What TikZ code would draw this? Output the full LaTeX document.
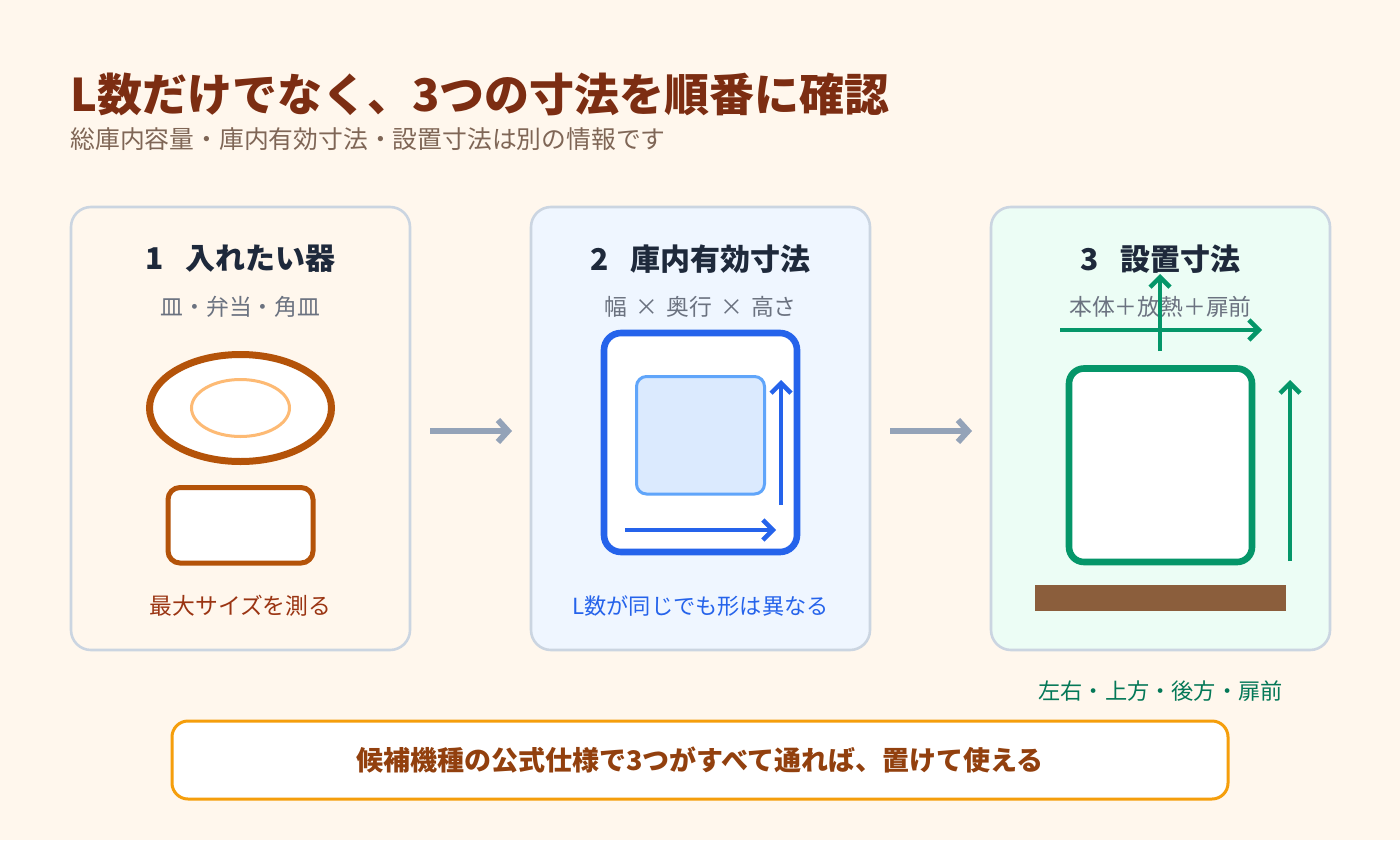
\documentclass[tikz,border=0pt]{standalone}
\usepackage{fontspec}
\setmainfont{Noto Sans CJK JP}
\usetikzlibrary{arrows.meta}
\definecolor{bg}{HTML}{FFF7ED}
\definecolor{titlec}{HTML}{7C2D12}
\definecolor{subtitlec}{HTML}{7F6656}
\definecolor{panelline}{HTML}{CBD5E1}
\definecolor{pfillA}{HTML}{FFF7ED}
\definecolor{pfillB}{HTML}{EFF6FF}
\definecolor{pfillC}{HTML}{ECFDF5}
\definecolor{headc}{HTML}{1E293B}
\definecolor{subgray}{HTML}{6B7280}
\definecolor{orangeA}{HTML}{B45309}
\definecolor{orangeL}{HTML}{FDBA74}
\definecolor{capA}{HTML}{9A3412}
\definecolor{blueA}{HTML}{2563EB}
\definecolor{blueL}{HTML}{60A5FA}
\definecolor{blueF}{HTML}{DBEAFE}
\definecolor{greenA}{HTML}{059669}
\definecolor{capC}{HTML}{047857}
\definecolor{barbrown}{HTML}{8B5E3C}
\definecolor{arrowgray}{HTML}{94A3B8}
\definecolor{amber}{HTML}{F59E0B}
\definecolor{bottomtext}{HTML}{92400E}
\tikzset{
  panel/.style={draw=panelline, line width=1.3pt, rounded corners=10pt,
    minimum width=169.5pt, minimum height=221.5pt, inner sep=0pt},
  head/.style={font=\bfseries\fontsize{15}{18}\selectfont, text=headc, inner sep=0pt},
  subt/.style={font=\fontsize{11.4}{14}\selectfont, text=subgray, inner sep=0pt},
  capt/.style={font=\fontsize{11.4}{14}\selectfont, inner sep=0pt},
  flow/.style={draw=arrowgray, line width=3pt, -{Straight Barb[length=5pt,width=11pt]}},
  dimarrow/.style={line width=2.25pt, -{Straight Barb[length=5pt,width=10pt]}},
}
\begin{document}
\begin{tikzpicture}[x=0.5pt,y=-0.5pt]
\useasboundingbox (0,0) rectangle (1400,840);
\fill[bg] (0,0) rectangle (1400,840);

% title
\node[anchor=west, inner sep=0pt, text=titlec, font=\bfseries\fontsize{22.5}{27}\selectfont] (title) at (70,94) {L数だけでなく、3つの寸法を順番に確認};
\node[anchor=west, inner sep=0pt, text=subtitlec, font=\fontsize{12.4}{15}\selectfont] (subtitle) at (70,139) {総庫内容量・庫内有効寸法・設置寸法は別の情報です};

% panels
\node[panel, fill=pfillA] (p1) at (240.5,428.5) {};
\node[panel, fill=pfillB] (p2) at (700.5,428.5) {};
\node[panel, fill=pfillC] (p3) at (1160.5,428.5) {};

% panel 1
\node[head] (h1) at (240.5,259) {1\hspace{0.7em}入れたい器};
\node[subt] (s1) at (240.5,307) {皿・弁当・角皿};
\draw[draw=orangeA, fill=white, line width=3.5pt] (240.5,408) ellipse [x radius=45.5pt, y radius=26.75pt];
\draw[draw=orangeL, line width=1.5pt] (240.5,408) ellipse [x radius=24.5pt, y radius=14.25pt];
\draw[draw=orangeA, fill=white, line width=2.5pt, rounded corners=6pt] (168,487.5) rectangle (313,563);
\node[capt, text=capA] (c1) at (240.5,605.5) {最大サイズを測る};

% panel 2
\node[head] (h2) at (700.5,259) {2\hspace{0.7em}庫内有効寸法};
\node[subt] (s2) at (700.5,307) {幅\hspace{0.36em}×\hspace{0.36em}奥行\hspace{0.36em}×\hspace{0.36em}高さ};
\draw[draw=blueA, fill=white, line width=3.3pt, rounded corners=8.5pt] (604,333) rectangle (797,552);
\draw[draw=blueL, fill=blueF, line width=1.5pt, rounded corners=5pt] (636.5,376.5) rectangle (764.5,494);
\coordinate (v2s) at (781,505); \coordinate (v2e) at (781,380);
\coordinate (h2s) at (625,530); \coordinate (h2e) at (776,530);
\draw[dimarrow, draw=blueA] (v2s) -- (v2e);
\draw[dimarrow, draw=blueA] (h2s) -- (h2e);
\node[capt, text=blueA, font=\fontsize{11.1}{14}\selectfont] (c2) at (700.5,606) {L数が同じでも形は異なる};

% panel 3
\node[head] (h3) at (1160.5,259) {3\hspace{0.7em}設置寸法};
\node[subt] (s3) at (1160.5,307) {本体＋放熱＋扉前};
\draw[draw=greenA, fill=white, line width=3.3pt, rounded corners=7.5pt] (1069,368.5) rectangle (1252,562);
\fill[barbrown] (1035,585) rectangle (1286,611);
\coordinate (t3hs) at (1060,330); \coordinate (t3he) at (1262,330);
\coordinate (t3vs) at (1160,351); \coordinate (t3ve) at (1160,274);
\coordinate (r3s) at (1290,561); \coordinate (r3e) at (1290,380);
\draw[dimarrow, draw=greenA] (t3hs) -- (t3he);
\draw[dimarrow, draw=greenA] (t3vs) -- (t3ve);
\draw[dimarrow, draw=greenA] (r3s) -- (r3e);
\node[capt, text=capC, font=\fontsize{11.1}{14}\selectfont] (c3) at (1160.5,691) {左右・上方・後方・扉前};

% flow arrows
\coordinate (a1s) at (430,431); \coordinate (a1e) at (512,431);
\coordinate (a2s) at (890,431); \coordinate (a2e) at (972,431);
\draw[flow] (a1s) -- (a1e);
\draw[flow] (a2s) -- (a2e);

% bottom box
\node[draw=amber, fill=white, line width=1.5pt, rounded corners=8pt,
      minimum width=528pt, minimum height=39pt, inner sep=0pt,
      text=bottomtext, font=\bfseries\fontsize{13.5}{16}\selectfont] (bottom) at (700,760)
      {候補機種の公式仕様で3つがすべて通れば、置けて使える};
\end{tikzpicture}
\end{document}
